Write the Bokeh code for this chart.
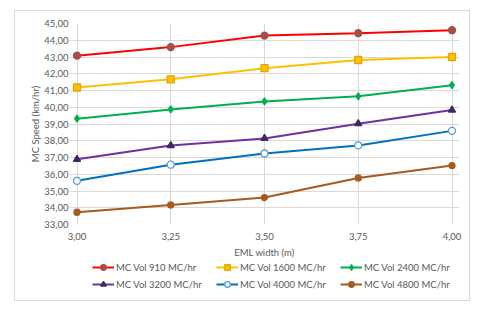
from bokeh.plotting import figure
from bokeh.layouts import column
from bokeh.models import Legend, LegendItem, CustomJSTickFormatter, FixedTicker, Range1d
from bokeh.embed import file_html
from bokeh.resources import INLINE

# ---- data ----
eml_width = [3.00, 3.25, 3.50, 3.75, 4.00]
vol_910 = [43.08, 43.59, 44.28, 44.42, 44.60]
vol_1600 = [41.18, 41.67, 42.33, 42.82, 43.00]
vol_2400 = [39.32, 39.87, 40.35, 40.65, 41.32]
vol_3200 = [36.89, 37.71, 38.14, 39.02, 39.83]
vol_4000 = [35.61, 36.57, 37.24, 37.72, 38.59]
vol_4800 = [33.73, 34.17, 34.61, 35.78, 36.52]
series_names = ["MC Vol 910 MC/hr", "MC Vol 1600 MC/hr", "MC Vol 2400 MC/hr",
                "MC Vol 3200 MC/hr", "MC Vol 4000 MC/hr", "MC Vol 4800 MC/hr"]
x_ticks = [3.00, 3.25, 3.50, 3.75, 4.00]
y_ticks = [33, 34, 35, 36, 37, 38, 39, 40, 41, 42, 43, 44, 45]

FONT = "Lato"
GREY = "#595959"
FS = "9.5px"

p = figure(width=454, height=249, output_backend="svg", toolbar_location=None,
           x_range=Range1d(2.98, 4.02), y_range=Range1d(33, 45),
           min_border_left=54, min_border_right=10, min_border_top=12, min_border_bottom=35)
p.outline_line_color = None
p.background_fill_color = "white"
p.border_fill_color = "white"

fmt = CustomJSTickFormatter(code="return tick.toFixed(2).replace('.', ',');")
for ax in (p.xaxis[0], p.yaxis[0]):
    ax.formatter = fmt
    ax.axis_line_color = None
    ax.major_tick_line_color = None
    ax.minor_tick_line_color = None
    ax.major_label_text_font = FONT
    ax.major_label_text_font_size = FS
    ax.major_label_text_color = GREY
    ax.axis_label_text_font = FONT
    ax.axis_label_text_font_size = FS
    ax.axis_label_text_color = GREY
    ax.axis_label_text_font_style = "normal"
    ax.major_tick_out = 0
    ax.major_tick_in = 0

p.xaxis[0].ticker = FixedTicker(ticks=x_ticks)
p.yaxis[0].ticker = FixedTicker(ticks=y_ticks)
p.xaxis[0].axis_label = "EML width (m)"
p.yaxis[0].axis_label = "MC Speed (km/hr)"
p.xaxis[0].major_label_standoff = 8
p.xaxis[0].axis_label_standoff = 4
p.yaxis[0].major_label_standoff = 1
p.yaxis[0].axis_label_standoff = 0

for g in (p.xgrid[0], p.ygrid[0]):
    g.grid_line_color = "#d9d9d9"
    g.grid_line_width = 1

styles = [
    dict(line="#FF0000", marker="circle", size=7, fill="#A84E48", mline="#A84E48"),
    dict(line="#FFC000", marker="square", size=7, fill="#FFC000", mline="#E0A800"),
    dict(line="#00B050", marker="diamond", size=7, fill="#00B050", mline="#00B050"),
    dict(line="#7030A0", marker="triangle", size=7, fill="#3F2A5E", mline="#3F2A5E"),
    dict(line="#0070C0", marker="circle", size=7, fill="white", mline="#5B9BD5"),
    dict(line="#A65A1E", marker="circle", size=6, fill="#A65A1E", mline="#A65A1E"),
]
data = [vol_910, vol_1600, vol_2400, vol_3200, vol_4000, vol_4800]

# legend strip below the chart (its ranges keep the copies of the series out of view)
pl = figure(width=454, height=40, output_backend="svg", toolbar_location=None,
            x_range=Range1d(0, 1), y_range=Range1d(0, 1),
            x_axis_type=None, y_axis_type=None,
            min_border_left=0, min_border_right=0, min_border_top=0, min_border_bottom=0)
pl.outline_line_color = None
pl.xgrid.visible = False
pl.ygrid.visible = False

items = []
for name, ys, st in zip(series_names, data, styles):
    p.line(eml_width, ys, line_color=st["line"], line_width=2)
    p.scatter(eml_width, ys, marker=st["marker"], size=st["size"],
              fill_color=st["fill"], line_color=st["mline"], line_width=1.3)
    l = pl.line(eml_width, ys, line_color=st["line"], line_width=2)
    s = pl.scatter(eml_width, ys, marker=st["marker"], size=st["size"],
                   fill_color=st["fill"], line_color=st["mline"], line_width=1.3)
    items.append(LegendItem(label=name, renderers=[l, s]))

legend = Legend(items=items, orientation="horizontal", ncols=3,
                location=(23, 9), padding=0, spacing=3, margin=0,
                glyph_width=22, glyph_height=14, label_height=14, label_width=97,
                label_standoff=2, label_text_font=FONT, label_text_font_size=FS,
                label_text_color=GREY, border_line_color=None,
                background_fill_alpha=0)
pl.add_layout(legend, "center")

layout = column(p, pl, spacing=0,
                styles={"margin-left": "14px", "margin-top": "10px",
                        "border": "1px solid #d9d9d9", "background": "white"})

open("out.html", "w").write(file_html(layout, INLINE))
